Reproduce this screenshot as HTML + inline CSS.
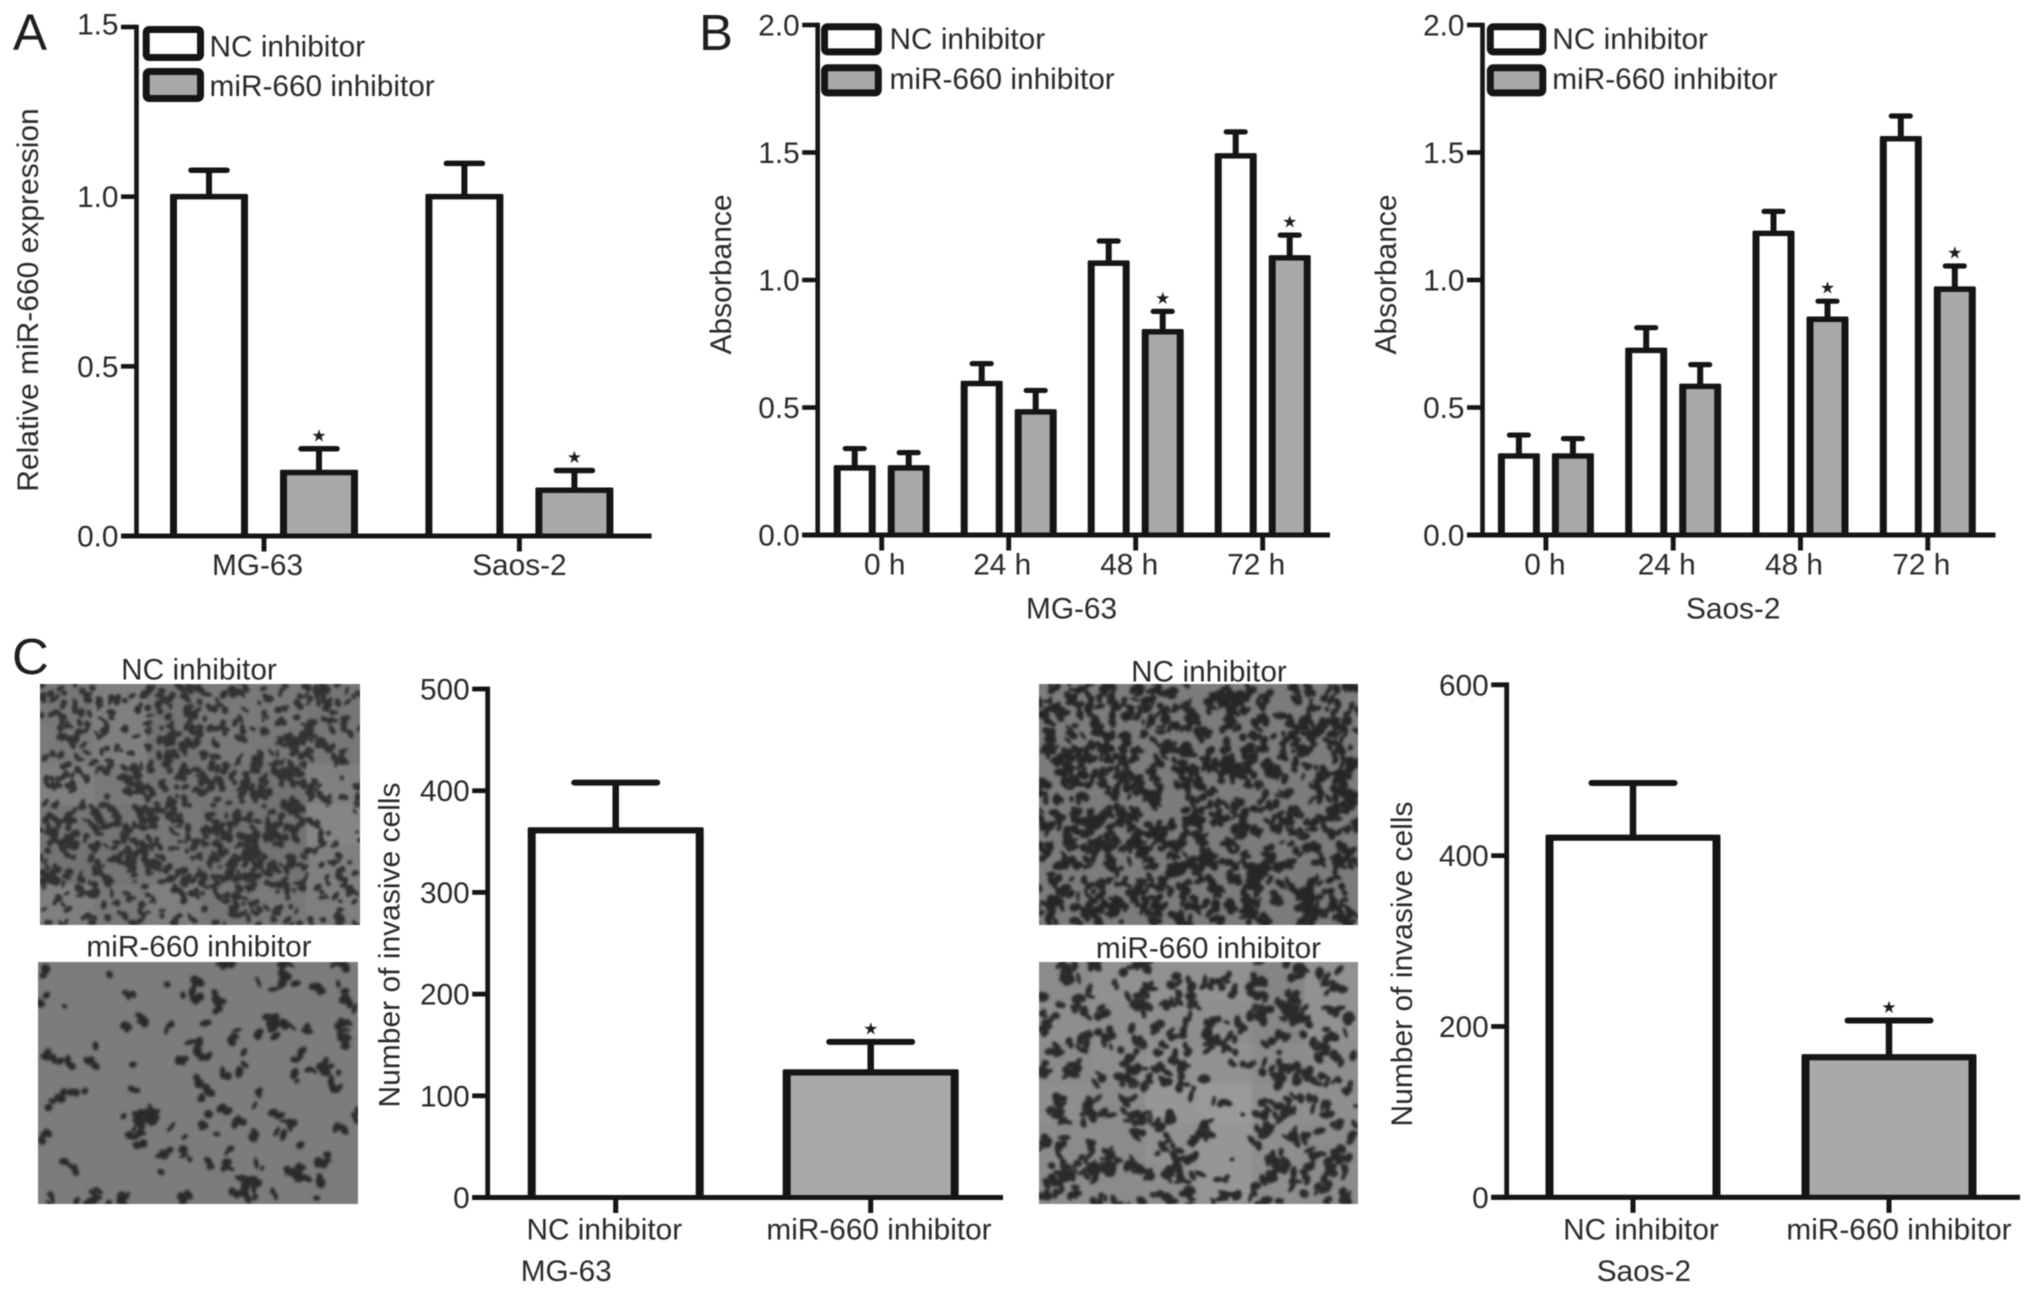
<!DOCTYPE html>
<html lang="en">
<head>
<meta charset="utf-8">
<title>miR-660 inhibitor figure</title>
<style>
html,body{margin:0;padding:0;background:#fff;}
svg{display:block;filter:blur(0.55px);}
text{font-family:"Liberation Sans",sans-serif;fill:#2a2a2a;}
.t{font-size:29.8px;}
.ty{font-size:30px;}
.letter{font-size:51px;fill:#1e1e1e;}
</style>
</head>
<body>
<svg id="fig" xmlns="http://www.w3.org/2000/svg" width="2031" height="1297" viewBox="0 0 2031 1297">
  <defs>
    <filter id="soft" x="0" y="0" width="100%" height="100%"><feGaussianBlur stdDeviation="1.2"/></filter>
    <clipPath id="clip-1"><rect x="40" y="684" width="320" height="241"/></clipPath>
    <clipPath id="clip-2"><rect x="38" y="962" width="320" height="242"/></clipPath>
    <clipPath id="clip-3"><rect x="1039" y="684" width="319" height="241"/></clipPath>
    <clipPath id="clip-4"><rect x="1039" y="962" width="319" height="242"/></clipPath>
  </defs>
  <rect width="2031" height="1297" fill="#fff"/>

  <text class="letter" x="13" y="50">A</text>
  <text class="letter" x="699" y="50">B</text>
  <text class="letter" x="12" y="674">C</text>

  <text class="ty" transform="translate(38,300) rotate(-90)" text-anchor="middle">Relative miR-660 expression</text>
  <text class="ty" transform="translate(731,274.5) rotate(-90)" text-anchor="middle">Absorbance</text>
  <text class="ty" transform="translate(1396,274.5) rotate(-90)" text-anchor="middle">Absorbance</text>
  <text class="ty" transform="translate(399.5,945) rotate(-90)" text-anchor="middle">Number of invasive cells</text>
  <text class="ty" transform="translate(1412,964) rotate(-90)" text-anchor="middle">Number of invasive cells</text>

  <text class="t" x="1026" y="618.5">MG-63</text>
  <text class="t" x="1686" y="618.5">Saos-2</text>
  <text class="t" x="520.7" y="1281">MG-63</text>
  <text class="t" x="1596.7" y="1281">Saos-2</text>

  <g>
    <rect x="146.2" y="29.5" width="54.3" height="28" rx="3" fill="#fff" stroke="#151515" stroke-width="7"/>
    <rect x="146.2" y="71.5" width="54.3" height="27" rx="3" fill="#a9a9a9" stroke="#151515" stroke-width="7"/>
    <text class="t" x="209.5" y="56.7">NC inhibitor</text>
    <text class="t" x="209.5" y="96">miR-660 inhibitor</text>
  </g>
  <g>
    <rect x="824.5" y="26.8" width="53.8" height="25.1" rx="3" fill="#fff" stroke="#151515" stroke-width="7"/>
    <rect x="824.5" y="67.8" width="53.8" height="25.1" rx="3" fill="#a9a9a9" stroke="#151515" stroke-width="7"/>
    <text class="t" x="889.5" y="49">NC inhibitor</text>
    <text class="t" x="889.5" y="89.2">miR-660 inhibitor</text>
  </g>
  <g>
    <rect x="1490.3" y="26.8" width="52.5" height="25.1" rx="3" fill="#fff" stroke="#151515" stroke-width="7"/>
    <rect x="1490.3" y="67.8" width="52.5" height="25.1" rx="3" fill="#a9a9a9" stroke="#151515" stroke-width="7"/>
    <text class="t" x="1552.3" y="49">NC inhibitor</text>
    <text class="t" x="1552.3" y="89.2">miR-660 inhibitor</text>
  </g>

  <text class="t" x="199" y="679.5" text-anchor="middle">NC inhibitor</text>
  <text class="t" x="199" y="956.7" text-anchor="middle">miR-660 inhibitor</text>
  <text class="t" x="1209" y="681.6" text-anchor="middle">NC inhibitor</text>
  <text class="t" x="1208.5" y="958" text-anchor="middle">miR-660 inhibitor</text>

  <g id="micrographs"></g>
  <g id="charts"></g>
</svg>
<script>
// Panel A
const aCategories = ['MG-63', 'Saos-2'];
const aTicks = [0, 0.5, 1, 1.5];
const aTickLabels = ['0.0', '0.5', '1.0', '1.5'];
const aNcMeans = [1.0, 1.0];
const aNcTops = [1.078, 1.098];
const aMirMeans = [0.187, 0.135];
const aMirTops = [0.257, 0.193];
const aMirStars = [1, 1];

// Panel B, MG-63
const timeCategories = ['0 h', '24 h', '48 h', '72 h'];
const absTicks = [0, 0.5, 1, 1.5, 2];
const absTickLabels = ['0.0', '0.5', '1.0', '1.5', '2.0'];
const bMgNcMeans = [0.263, 0.594, 1.066, 1.487];
const bMgNcTops = [0.339, 0.672, 1.153, 1.581];
const bMgMirMeans = [0.263, 0.483, 0.797, 1.087];
const bMgMirTops = [0.323, 0.567, 0.877, 1.176];
const bMgMirStars = [0, 0, 1, 1];

// Panel B, Saos-2
const bSaNcMeans = [0.31, 0.724, 1.183, 1.554];
const bSaNcTops = [0.392, 0.813, 1.269, 1.643];
const bSaMirMeans = [0.31, 0.583, 0.846, 0.964];
const bSaMirTops = [0.378, 0.668, 0.917, 1.055];
const bSaMirStars = [0, 0, 1, 1];

// Panel C
const cCategories = ['NC inhibitor', 'miR-660 inhibitor'];
const cMgTicks = [0, 100, 200, 300, 400, 500];
const cMgTickLabels = ['0', '100', '200', '300', '400', '500'];
const cMgMeans = [361, 123];
const cMgTops = [408, 153];
const cMgStars = [0, 1];
const cSaTicks = [0, 200, 400, 600];
const cSaTickLabels = ['0', '200', '400', '600'];
const cSaMeans = [421, 164];
const cSaTops = [485, 207];
const cSaStars = [0, 1];

const NS = 'http://www.w3.org/2000/svg';
const INK = '#151515';
const GREY = '#a9a9a9';
const chartsRoot = document.getElementById('charts');

function make(tag, attrs, parent) {
  const el = document.createElementNS(NS, tag);
  for (const k in attrs) el.setAttribute(k, attrs[k]);
  parent.appendChild(el);
  return el;
}

function drawAxes(g, c, ticks, labels, cats) {
  const yAxis = make('line', {x1: c.axisX, x2: c.axisX, y1: c.y(c.maxV) - c.axisW / 2, y2: c.y(0), stroke: INK, 'stroke-width': c.axisW}, g);
  
  
  const xAxis = make('line', {x1: c.axisX - 15.5, x2: c.axisRight, y1: c.y(0), y2: c.y(0), stroke: INK, 'stroke-width': c.axisW + 0.3}, g);
  
  
  ticks.forEach(function (t, i) {
    const tick = make('line', {x1: c.axisX - 15.5, x2: c.axisX, y1: c.y(t), y2: c.y(t), stroke: INK, 'stroke-width': c.axisW}, g);
    
    
    const shift = c.topLabelDy && i === ticks.length - 1 ? c.topLabelDy : 0;
    const label = make('text', {x: c.axisX - 18, y: c.y(t) + 10.5 + shift, 'text-anchor': 'end', class: 't'}, g);
    
    
    label.textContent = labels[i];
  });
  cats.forEach(function (name, i) {
    const x = c.x(i);
    const tick = make('line', {x1: x, x2: x, y1: c.y(0), y2: c.y(0) + 15.5, stroke: INK, 'stroke-width': c.axisW + 0.3}, g);
    
    
    const label = make('text', {x: x + c.labelDx(i), y: c.labelY, 'text-anchor': 'middle', class: 't'}, g);
    
    
    label.textContent = name;
  });
}

function drawBar(g, c, cx, mean, top, fill, star) {
  const yTop = c.y(mean);
  const yCap = c.y(top);
  const base = c.y(0);
  const stem = make('line', {x1: cx, x2: cx, y1: yCap, y2: yTop, stroke: INK, 'stroke-width': c.stemW}, g);
  
  
  const cap = make('line', {x1: cx - c.capW / 2, x2: cx + c.capW / 2, y1: yCap, y2: yCap, stroke: INK, 'stroke-width': c.capH, 'stroke-linecap': 'round'}, g);
  
  
  const bar = make('rect', {x: cx - c.barW / 2 - c.sideW / 2, y: yTop - c.topH / 2, width: c.barW + c.sideW, height: base - yTop + c.topH / 2, rx: 1.5, fill: INK}, g);
  
  
  const inner = make('rect', {x: cx - c.barW / 2 + c.sideW / 2, y: yTop + c.topH / 2, width: c.barW - c.sideW, height: base - yTop - c.topH / 2, fill: fill}, g);
  
  
  if (star) {
    const s = make('text', {x: cx, y: yCap - 7.5, 'text-anchor': 'middle', style: 'font-family:"DejaVu Sans",sans-serif;font-size:17px;fill:#1e1e1e'}, g);
    
    
    s.textContent = '\u2605';
  }
}

function linearY(y0, yTop, maxV) {
  return function (v) { return y0 - (y0 - yTop) * v / maxV; };
}
function linearX(first, step) {
  return function (i) { return first + step * i; };
}

function drawGrouped(name, c, cats, ticks, labels, nc, ncTop, mir, mirTop, stars) {
  const g = make('g', {}, chartsRoot);
  
  
  cats.forEach(function (_, i) {
    drawBar(g, c, c.x(i) - c.off, nc[i], ncTop[i], '#fff', 0);
    drawBar(g, c, c.x(i) + c.off, mir[i], mirTop[i], GREY, stars[i]);
  });
  drawAxes(g, c, ticks, labels, cats);
}

function drawSingles(name, c, cats, ticks, labels, means, tops, stars) {
  const g = make('g', {}, chartsRoot);
  
  
  cats.forEach(function (_, i) {
    drawBar(g, c, c.x(i), means[i], tops[i], i === 0 ? '#fff' : GREY, stars[i]);
  });
  drawAxes(g, c, ticks, labels, cats);
}

drawGrouped('chart-a', {
  axisX: 136.5, axisRight: 651.6, axisW: 4.6, y: linearY(536, 27, 1.5), maxV: 1.5, topLabelDy: -3,
  x: linearX(264, 255.4), off: 55, barW: 71, sideW: 7, topH: 5.5, capW: 36, capH: 5.5, stemW: 6,
  labelY: 575, labelDx: function (i) { return i ? 0 : -6.5; }
}, aCategories, aTicks, aTickLabels, aNcMeans, aNcTops, aMirMeans, aMirTops, aMirStars);

drawGrouped('chart-b-mg63', {
  axisX: 817.7, axisRight: 1330, axisW: 4.6, y: linearY(535, 25, 2), maxV: 2,
  x: linearX(881.7, 127), off: 27, barW: 35, sideW: 7, topH: 5.5, capW: 19, capH: 5.2, stemW: 6,
  labelY: 574.5, labelDx: function (i) { return i ? -6.5 : 3; }
}, timeCategories, absTicks, absTickLabels, bMgNcMeans, bMgNcTops, bMgMirMeans, bMgMirTops, bMgMirStars);

drawGrouped('chart-b-saos2', {
  axisX: 1482.5, axisRight: 1995.5, axisW: 4.6, y: linearY(535, 25, 2), maxV: 2,
  x: linearX(1545.9, 127.3), off: 27, barW: 35, sideW: 7, topH: 5.5, capW: 19, capH: 5.2, stemW: 6,
  labelY: 574.5, labelDx: function (i) { return i ? -6.5 : -1; }
}, timeCategories, absTicks, absTickLabels, bSaNcMeans, bSaNcTops, bSaMirMeans, bSaMirTops, bSaMirStars);

drawSingles('chart-c-mg63', {
  axisX: 487.7, axisRight: 1003, axisW: 4.8, y: linearY(1197.5, 689, 500), maxV: 500,
  x: linearX(615.7, 255), barW: 168, sideW: 8, topH: 6.2, capW: 83, capH: 6, stemW: 6.5,
  labelY: 1239.5, labelDx: function (i) { return i ? 8.3 : -11.4; }
}, cCategories, cMgTicks, cMgTickLabels, cMgMeans, cMgTops, cMgStars);

drawSingles('chart-c-saos2', {
  axisX: 1506.7, axisRight: 2020, axisW: 4.8, y: linearY(1197.3, 684.8, 600), maxV: 600,
  x: linearX(1633, 256), barW: 167, sideW: 8, topH: 6.2, capW: 83, capH: 6, stemW: 6.5,
  labelY: 1239.5, labelDx: function (i) { return i ? 10 : 8; }
}, cCategories, cSaTicks, cSaTickLabels, cSaMeans, cSaTops, cSaStars);

// Micrograph textures (decorative photographs, not chart data)
let seed = 12345;
function rnd() {
  seed = (seed * 1664525 + 1013904223) >>> 0;
  return seed / 4294967296;
}
function drawMicrograph(name, clip, X, Y, W, H, bg, blobColor, density, rx, ry, factor, chain, light) {
  const g = make('g', {'clip-path': 'url(#' + clip + ')'}, document.getElementById('micrographs'));
  
  
  make('rect', {x: X, y: Y, width: W, height: H, fill: bg}, g);
  const inner = make('g', {filter: 'url(#soft)'}, g);
  const rows = density.length, cols = density[0].length;
  const cw = W / cols, ch = H / rows;
  for (let r = 0; r < rows; r++) {
    for (let q = 0; q < cols; q++) {
      const d = +density[r][q];
      if (light) {
        make('rect', {x: X + q * cw, y: Y + r * ch, width: cw, height: ch, fill: d < 4 ? '#b4b4b4' : '#5a5a5a', opacity: d < 4 ? (4 - d) * 0.1 : 0.05 * (d - 3)}, inner);
      }
      const n = Math.round(d * factor);
      for (let i = 0; i < n; i++) {
        let x = X + (q + rnd()) * cw, y = Y + (r + rnd()) * ch;
        const k = 1 + Math.floor(rnd() * chain);
        for (let j = 0; j < k; j++) {
          const a = rx * (0.6 + rnd() * 0.9), b = ry * (0.6 + rnd() * 1.0);
          make('ellipse', {cx: x.toFixed(1), cy: y.toFixed(1), rx: a.toFixed(1), ry: b.toFixed(1), fill: blobColor, transform: 'rotate(' + Math.round(rnd() * 180) + ' ' + x.toFixed(1) + ' ' + y.toFixed(1) + ')'}, inner);
          const turn = rnd() * Math.PI * 2;
          x += Math.cos(turn) * a * 1.3;
          y += Math.sin(turn) * a * 1.3;
        }
      }
    }
  }
}
drawMicrograph('micrograph-mg63-nc', 'clip-1', 40, 684, 320, 241, '#7a7a7a', '#303030',
  ['536446', '437455', '346673', '665882', '765873', '343543'], 3.7, 2.5, 4.6, 2, true);
drawMicrograph('micrograph-mg63-mir', 'clip-2', 38, 962, 320, 242, '#7c7c7c', '#2c2c2c',
  ['223353', '222343', '232323', '342332', '233432', '443342'], 4.2, 3, 1.2, 4, false);
drawMicrograph('micrograph-saos2-nc', 'clip-3', 1039, 684, 319, 241, '#7c7c7c', '#262626',
  ['787766', '777768', '678878', '788977', '878877', '877768'], 3.8, 2.6, 2.9, 4, false);
drawMicrograph('micrograph-saos2-mir', 'clip-4', 1039, 962, 319, 242, '#939393', '#2a2a2a',
  ['644484', '555574', '654465', '563255', '664356', '665356'], 4.4, 3, 1.7, 4, true);
</script>
</body>
</html>
